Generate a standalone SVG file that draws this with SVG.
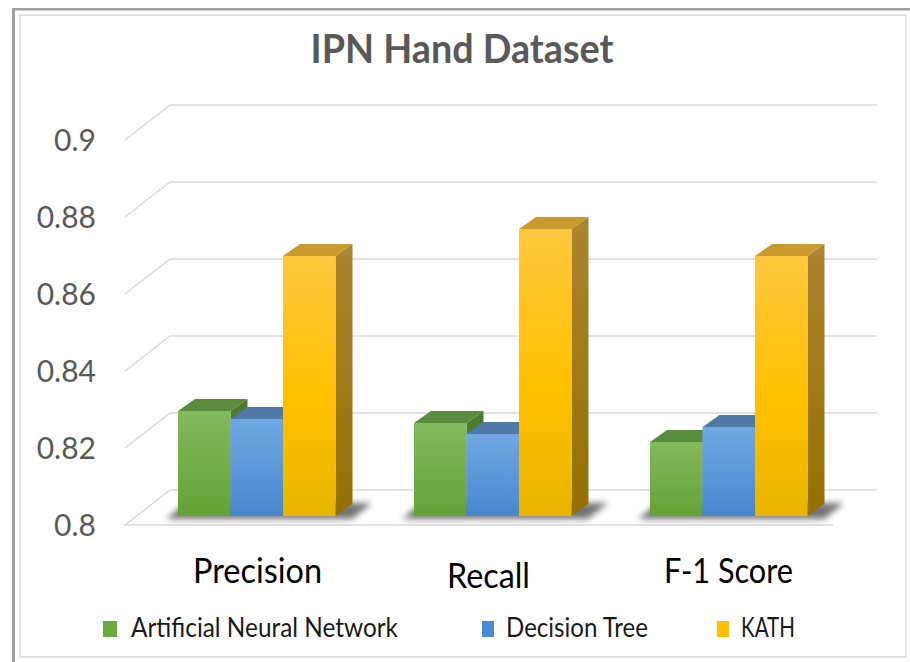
<svg xmlns="http://www.w3.org/2000/svg" width="910" height="662" viewBox="0 0 910 662">
<style>
.grid{stroke:#d9d9d9;stroke-width:1.5;fill:none}
.ylab{font-family:Lato,"Liberation Sans",sans-serif;font-size:30px;fill:#595959;text-anchor:end}
.cat{font-family:Lato,"Liberation Sans",sans-serif;font-size:34px;fill:#000;text-anchor:middle}
.leg{font-family:Lato,"Liberation Sans",sans-serif;font-size:26px;fill:#1a1a1a}
.title{font-family:Lato,"Liberation Sans",sans-serif;font-size:41px;font-weight:bold;fill:#595959;text-anchor:middle}
.gtop{fill:#5b8c3e}.gside{fill:#4e7a30}.gfront{fill:url(#gG)}
.btop{fill:#4f7aa7}.bside{fill:#3f6a9a}.bfront{fill:url(#gB)}
.ytop{fill:#c99a2e}.yside{fill:url(#gYs)}.yfront{fill:url(#gY)}
.shadow{fill:#444;opacity:0.75;filter:url(#blur)}
</style>
<defs>
<linearGradient id="gG" x1="0" y1="0" x2="0" y2="1"><stop offset="0" stop-color="#82bb5c"/><stop offset="1" stop-color="#64a236"/></linearGradient>
<linearGradient id="gB" x1="0" y1="0" x2="0" y2="1"><stop offset="0" stop-color="#70a8e2"/><stop offset="1" stop-color="#4887cf"/></linearGradient>
<linearGradient id="gY" x1="0" y1="0" x2="0" y2="1"><stop offset="0" stop-color="#ffc73e"/><stop offset="0.55" stop-color="#ffc000"/><stop offset="1" stop-color="#e9b500"/></linearGradient>
<linearGradient id="gYs" x1="0" y1="0" x2="0" y2="1"><stop offset="0" stop-color="#ab8530"/><stop offset="1" stop-color="#957000"/></linearGradient>
<filter id="blur" x="-20%" y="-100%" width="140%" height="300%"><feGaussianBlur stdDeviation="3"/></filter>
</defs>
<rect width="910" height="662" fill="#fff"/>
<g id="frame">
<line x1="12" y1="9.2" x2="910" y2="9.2" stroke="#a0a0a0" stroke-width="2.6"/>
<line x1="13.5" y1="8" x2="13.5" y2="662" stroke="#a0a0a0" stroke-width="3"/>
<rect x="20" y="15" width="886" height="642" fill="none" stroke="#e2e2e2" stroke-width="2"/>
</g>
<g id="title"><text class="title" x="462" y="63" textLength="303" lengthAdjust="spacingAndGlyphs">IPN Hand Dataset</text></g>
<g id="gridlines">
<polyline class="grid" points="125,140 170,105 877,105"/>
<polyline class="grid" points="125,217 170,182 877,182"/>
<polyline class="grid" points="125,294 170,259 877,259"/>
<polyline class="grid" points="125,371 170,336 877,336"/>
<polyline class="grid" points="125,448 170,413 877,413"/>
<polyline class="grid" points="833,525 125,525 170,490 877,490"/>
</g>
<g id="yaxis">
<text class="ylab" x="96" y="151">0.9</text>
<text class="ylab" x="96" y="228">0.88</text>
<text class="ylab" x="96" y="305">0.86</text>
<text class="ylab" x="96" y="382">0.84</text>
<text class="ylab" x="96" y="459">0.82</text>
<text class="ylab" x="96" y="536">0.8</text>
</g>
<g id="shadows">
<polygon class="shadow" points="166,519 352,519 372,503 186,503"/>
<polygon class="shadow" points="402,519 588,519 608,503 422,503"/>
<polygon class="shadow" points="638,519 824,519 844,503 658,503"/>
</g>
<g id="precision">
<polygon class="gside" points="230.5,411 247.5,399 247.5,504 230.5,516"/>
<polygon class="gtop" points="178,411 230.5,411 247.5,399 195,399"/>
<rect class="gfront" x="178" y="411" width="52.5" height="105"/>
<polygon class="bside" points="283,419 300,407 300,504 283,516"/>
<polygon class="btop" points="230.5,419 283,419 300,407 247.5,407"/>
<rect class="bfront" x="230.5" y="419" width="52.5" height="97"/>
<polygon class="yside" points="335.5,256 352.5,244 352.5,504 335.5,516"/>
<polygon class="ytop" points="283,256 335.5,256 352.5,244 300,244"/>
<rect class="yfront" x="283" y="256" width="52.5" height="260"/>
</g>
<g id="recall">
<polygon class="gside" points="466.5,423 483.5,411 483.5,504 466.5,516"/>
<polygon class="gtop" points="414,423 466.5,423 483.5,411 431,411"/>
<rect class="gfront" x="414" y="423" width="52.5" height="93"/>
<polygon class="bside" points="519,434 536,422 536,504 519,516"/>
<polygon class="btop" points="466.5,434 519,434 536,422 483.5,422"/>
<rect class="bfront" x="466.5" y="434" width="52.5" height="82"/>
<polygon class="yside" points="571.5,229 588.5,217 588.5,504 571.5,516"/>
<polygon class="ytop" points="519,229 571.5,229 588.5,217 536,217"/>
<rect class="yfront" x="519" y="229" width="52.5" height="287"/>
</g>
<g id="f1score">
<polygon class="gside" points="702.5,442 719.5,430 719.5,504 702.5,516"/>
<polygon class="gtop" points="650,442 702.5,442 719.5,430 667,430"/>
<rect class="gfront" x="650" y="442" width="52.5" height="74"/>
<polygon class="bside" points="755,427 772,415 772,504 755,516"/>
<polygon class="btop" points="702.5,427 755,427 772,415 719.5,415"/>
<rect class="bfront" x="702.5" y="427" width="52.5" height="89"/>
<polygon class="yside" points="807.5,256 824.5,244 824.5,504 807.5,516"/>
<polygon class="ytop" points="755,256 807.5,256 824.5,244 772,244"/>
<rect class="yfront" x="755" y="256" width="52.5" height="260"/>
</g>
<g id="categories">
<text class="cat" x="257.5" y="583" textLength="129" lengthAdjust="spacingAndGlyphs">Precision</text>
<text class="cat" x="488.5" y="588" textLength="83" lengthAdjust="spacingAndGlyphs">Recall</text>
<text class="cat" x="728.5" y="583" textLength="129" lengthAdjust="spacingAndGlyphs">F-1 Score</text>
</g>
<g id="legend">
<rect x="103" y="621" width="14" height="16" fill="#6aab3d"/>
<text class="leg" x="131" y="637" textLength="267" lengthAdjust="spacingAndGlyphs">Artificial Neural Network</text>
<rect x="482" y="621" width="12" height="16" fill="#4a8ad0"/>
<text class="leg" x="506" y="637" textLength="142" lengthAdjust="spacingAndGlyphs">Decision Tree</text>
<rect x="717" y="621" width="12" height="16" fill="#ffc000"/>
<text class="leg" x="741" y="637" textLength="54" lengthAdjust="spacingAndGlyphs">KATH</text>
</g>
</svg>
